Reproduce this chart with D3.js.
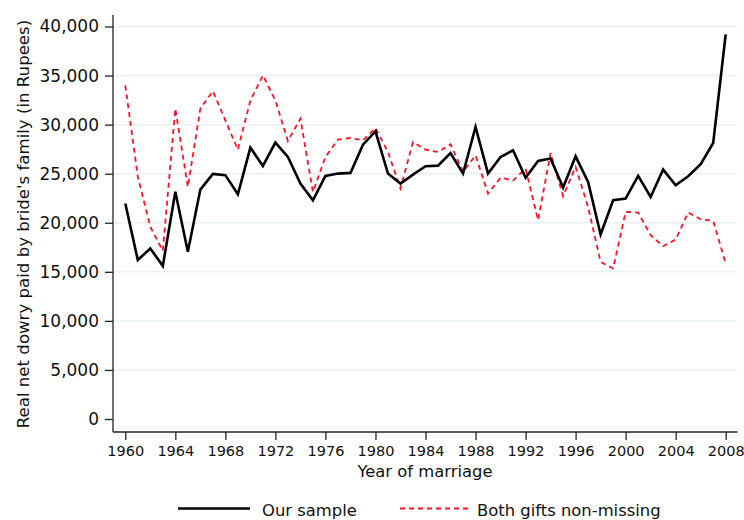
<!DOCTYPE html>
<html>
<head>
<meta charset="utf-8">
<script src="https://cdn.jsdelivr.net/npm/d3@7"></script>
<style>
html,body{margin:0;padding:0;background:#fff;}
svg{display:block;font-family:"DejaVu Sans",Verdana,sans-serif;}
</style>
</head>
<body>
<svg id="chart" width="744" height="520"></svg>
<script>
const years = d3.range(1960, 2009);
const ourSample = [21960,16200,17380,15600,23150,17050,23380,24970,24850,22900,
  27660,25790,28170,26700,24000,22290,24770,25010,25080,27960,
  29320,25010,24000,24910,25760,25820,27110,25010,29760,25010,
  26700,27380,24580,26300,26540,23590,26770,24160,18800,22290,
  22470,24770,22630,25420,23820,24740,25960,28130,39190];
const bothGifts = [34000,24700,19580,17150,31630,23650,31630,33420,30440,27450,
  32470,35020,32470,28330,30610,23140,26700,28470,28640,28400,
  29660,27210,23490,28230,27450,27210,27990,25180,26870,22970,
  24600,24300,25520,20260,27110,22700,25690,21610,16010,15340,
  21100,21040,18730,17610,18290,21040,20360,20190,15850];
const xTicks = d3.range(1960, 2009, 4);
const yTicks = [0,5000,10000,15000,20000,25000,30000,35000,40000];
const seriesNames = ["Our sample", "Both gifts non-missing"];

const svg = d3.select("#chart");
const x = d3.scaleLinear().domain([1960, 2008]).range([125.3, 725.7]);
const y = d3.scaleLinear().domain([0, 40000]).range([419, 26.5]);
const axisLeftX = 113, axisBottomY = 432, axisRightX = 737.5, axisTopY = 15;

// gridlines
svg.append("g").selectAll("line").data(yTicks.filter(d => d > 0)).join("line")
  .attr("x1", axisLeftX).attr("x2", axisRightX)
  .attr("y1", d => y(d)).attr("y2", d => y(d))
  .attr("stroke", "#e8f0f2").attr("stroke-width", 1.5);

// y axis
const gy = svg.append("g").attr("transform", `translate(${axisLeftX},0)`)
  .call(d3.axisLeft(y).tickValues(yTicks).tickSize(8).tickSizeOuter(0).tickFormat(d3.format(",")).tickPadding(6));
gy.select(".domain").remove();
gy.append("line").attr("x1", 0).attr("x2", 0).attr("y1", axisTopY).attr("y2", axisBottomY)
  .attr("stroke", "#222").attr("stroke-width", 1.3);
gy.selectAll(".tick line").attr("stroke", "#222").attr("stroke-width", 1.3);
gy.selectAll(".tick text").attr("font-size", "17px").attr("fill", "#111")
  .attr("font-family", "DejaVu Sans, Verdana, sans-serif");

// x axis
const gx = svg.append("g").attr("transform", `translate(0,${axisBottomY})`)
  .call(d3.axisBottom(x).tickValues(xTicks).tickSize(8).tickSizeOuter(0).tickFormat(d3.format("d")).tickPadding(6));
gx.select(".domain").remove();
gx.append("line").attr("x1", axisLeftX).attr("x2", axisRightX).attr("y1", 0).attr("y2", 0)
  .attr("stroke", "#222").attr("stroke-width", 1.3);
gx.selectAll(".tick line").attr("stroke", "#222").attr("stroke-width", 1.3);
gx.selectAll(".tick text").attr("font-size", "14.5px").attr("fill", "#111")
  .attr("font-family", "DejaVu Sans, Verdana, sans-serif");

// axis titles
svg.append("text").attr("x", 425).attr("y", 477)
  .attr("text-anchor", "middle").attr("font-size", "16.4px").attr("fill", "#111")
  .text("Year of marriage");
svg.append("text").attr("transform", "translate(29,224) rotate(-90)")
  .attr("text-anchor", "middle").attr("font-size", "16.6px").attr("fill", "#111")
  .text("Real net dowry paid by bride's family (in Rupees)");

// lines
const line = d3.line().x((d, i) => x(years[i])).y(d => y(d));
svg.append("path").datum(bothGifts).attr("d", line)
  .attr("fill", "none").attr("stroke", "#ff1020").attr("stroke-width", 1.8)
  .attr("stroke-dasharray", "5,4");
svg.append("path").datum(ourSample).attr("d", line)
  .attr("fill", "none").attr("stroke", "#000").attr("stroke-width", 2.6)
  .attr("stroke-linejoin", "miter");

// legend
const lg = svg.append("g");
lg.append("line").attr("x1", 178).attr("x2", 250).attr("y1", 508.5).attr("y2", 508.5)
  .attr("stroke", "#000").attr("stroke-width", 2.6);
lg.append("text").attr("x", 262).attr("y", 515.5).attr("font-size", "16.4px").attr("fill", "#111")
  .text(seriesNames[0]);
lg.append("line").attr("x1", 400).attr("x2", 468).attr("y1", 508.5).attr("y2", 508.5)
  .attr("stroke", "#ff1020").attr("stroke-width", 1.8).attr("stroke-dasharray", "5,4");
lg.append("text").attr("x", 477).attr("y", 515.5).attr("font-size", "16.4px").attr("fill", "#111")
  .text(seriesNames[1]);
</script>
</body>
</html>
